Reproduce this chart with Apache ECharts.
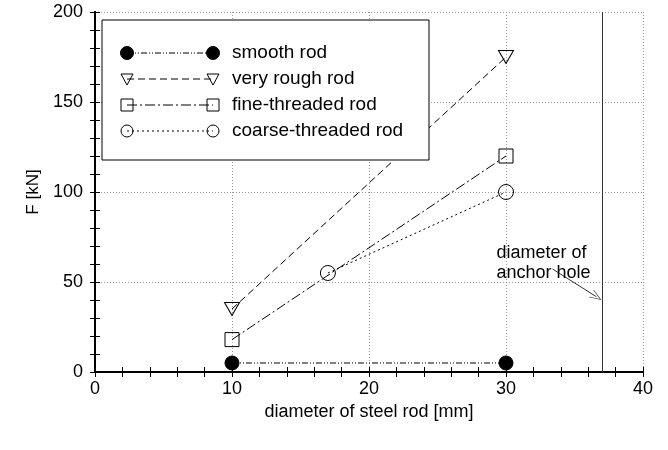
<!DOCTYPE html>
<html>
<head>
<meta charset="utf-8">
<script src="https://cdn.jsdelivr.net/npm/echarts@6/dist/echarts.min.js"></script>
<style>
  html, body { margin: 0; padding: 0; background: #fff; }
  #chart { width: 668px; height: 450px; }
</style>
</head>
<body>
<div id="chart"></div>
<script>
// data
const seriesNames = ['smooth rod', 'very rough rod', 'fine-threaded rod', 'coarse-threaded rod']
const smoothRod = [[10, 5], [30, 5]]
const veryRoughRod = [[10, 35], [30, 175]]
const fineThreadedRod = [[10, 18], [30, 120]]
const coarseThreadedRod = [[17, 55], [30, 100]]
const anchorHoleDiameter = 37
const noteText = 'diameter of\nanchor hole'
const notePos = [29.3, 60.5]
const arrowFrom = [33.4, 57.2]
const arrowTo = [36.6, 41.8]

const FONT = 'Liberation Sans, Arial, sans-serif'
const dashes = [[6, 2, 1, 2, 1, 2], [7, 4], [10, 3, 2, 3], [2, 3]]

let chart = echarts.init(document.getElementById('chart'))

function markerStyle (filled) {
  return filled
    ? {color: '#000', borderColor: '#000', borderWidth: 1}
    : {color: 'rgba(0,0,0,0)', borderColor: '#000', borderWidth: 1}
}

function lineSeries (name, data, dash, symbol, size, filled, rotate) {
  return {
    name: name,
    type: 'line',
    data: data,
    symbol: symbol,
    symbolSize: size,
    symbolRotate: rotate || 0,
    showAllSymbol: true,
    lineStyle: {color: '#000', width: 1, type: dash},
    itemStyle: markerStyle(filled),
    z: 5
  }
}

// legend drawn by hand: marker - line - marker, then the label
const legendX1 = 127
const legendX2 = 213
const legendRow0 = 53
const legendStep = 26
let legendGraphics = [{
  type: 'rect',
  shape: {x: 102, y: 20, width: 327, height: 140},
  style: {fill: '#fff', stroke: '#000', lineWidth: 1},
  z: 10
}]

function legendMarker (i, x, y) {
  if (i === 0) {
    return {type: 'circle', shape: {cx: x, cy: y, r: 6.5}, style: {fill: '#000', stroke: '#000'}, z: 12}
  }
  if (i === 1) {
    return {type: 'polygon', shape: {points: [[x - 6, y - 5], [x + 6, y - 5], [x, y + 6]]}, style: {fill: 'none', stroke: '#000'}, z: 12}
  }
  if (i === 2) {
    return {type: 'rect', shape: {x: x - 6, y: y - 6, width: 12, height: 12}, style: {fill: 'none', stroke: '#000'}, z: 12}
  }
  return {type: 'circle', shape: {cx: x, cy: y, r: 6}, style: {fill: 'none', stroke: '#000'}, z: 12}
}

seriesNames.forEach(function (name, i) {
  const y = legendRow0 + i * legendStep
  legendGraphics.push({
    type: 'line',
    shape: {x1: legendX1, y1: y, x2: legendX2, y2: y},
    style: {stroke: '#000', lineWidth: 1, lineDash: dashes[i]},
    z: 11
  })
  legendGraphics.push(legendMarker(i, legendX1, y))
  legendGraphics.push(legendMarker(i, legendX2, y))
  legendGraphics.push({
    type: 'text',
    x: 232,
    y: y,
    style: {text: name, fill: '#000', font: '19px ' + FONT, verticalAlign: 'middle'},
    z: 12
  })
})

const gridRect = {left: 95, right: 25, top: 12, bottom: 78}
const tickStyle = {color: '#000', width: 1}

// frame axes: line, labels and grid lines (grid 0)
function frameAxis (extra) {
  return Object.assign({
    type: 'value',
    gridIndex: 0,
    axisLine: {show: true, lineStyle: {color: '#000', width: 2}},
    axisTick: {show: false},
    axisLabel: {show: false},
    splitLine: {show: false}
  }, extra)
}

// tick-only axes on a twin grid, ticks pointing into the plot
function tickAxis (extra) {
  return Object.assign({
    type: 'value',
    gridIndex: 1,
    axisLine: {show: false},
    axisTick: {show: true, inside: true, length: 5, lineStyle: tickStyle},
    axisLabel: {show: false},
    splitLine: {show: false}
  }, extra)
}

const gridDots = {show: true, lineStyle: {color: '#999', width: 1, type: [1, 2]}}

chart.setOption({
  animation: false,
  backgroundColor: '#fff',
  grid: [gridRect, gridRect],
  xAxis: [
    frameAxis({
      position: 'bottom', min: 0, max: 40, interval: 10,
      name: 'diameter of steel rod [mm]',
      nameLocation: 'middle',
      nameGap: 30,
      nameTextStyle: {color: '#000', fontSize: 18, fontFamily: FONT},
      axisLabel: {show: true, color: '#000', fontSize: 18, fontFamily: FONT, margin: 8},
      splitLine: gridDots
    }),
    frameAxis({position: 'top', min: 0, max: 40, interval: 10}),
    tickAxis({position: 'bottom', min: 0, max: 40, interval: 2}),
    tickAxis({position: 'top', min: 0, max: 40, interval: 2})
  ],
  yAxis: [
    frameAxis({
      position: 'left', min: 0, max: 200, interval: 50,
      name: 'F [kN]',
      nameLocation: 'middle',
      nameGap: 51,
      nameTextStyle: {color: '#000', fontSize: 17, fontFamily: FONT},
      axisLabel: {show: true, color: '#000', fontSize: 18, fontFamily: FONT, margin: 12},
      splitLine: gridDots
    }),
    frameAxis({position: 'right', min: 0, max: 200, interval: 50}),
    tickAxis({position: 'left', min: 0, max: 200, interval: 10}),
    tickAxis({position: 'right', min: 0, max: 200, interval: 10})
  ],
  series: [
    lineSeries(seriesNames[0], smoothRod, dashes[0], 'circle', 14, true),
    lineSeries(seriesNames[1], veryRoughRod, dashes[1], 'triangle', [15, 13], false, 180),
    lineSeries(seriesNames[2], fineThreadedRod, dashes[2], 'rect', 14, false),
    lineSeries(seriesNames[3], coarseThreadedRod, dashes[3], 'circle', 15, false),
    {
      name: 'anchor hole',
      type: 'line',
      data: [],
      silent: true,
      markLine: {
        silent: true,
        animation: false,
        symbol: 'none',
        label: {show: false},
        lineStyle: {color: '#333', width: 1, type: 'solid'},
        data: [
          {xAxis: anchorHoleDiameter},
          [
            {coord: arrowFrom, symbol: 'none'},
            {coord: arrowTo, symbol: 'path://M0,12 L5,0 L10,12 L9.2,12 L5,2 L0.8,12 Z', symbolSize: [9, 12]}
          ]
        ]
      },
      markPoint: {
        silent: true,
        symbol: 'circle',
        symbolSize: 0,
        label: {
          show: true,
          position: 'right',
          distance: 0,
          color: '#000',
          fontSize: 18,
          fontFamily: FONT,
          lineHeight: 20,
          formatter: noteText
        },
        data: [{coord: notePos}]
      }
    }
  ],
  graphic: legendGraphics
})
</script>
</body>
</html>
